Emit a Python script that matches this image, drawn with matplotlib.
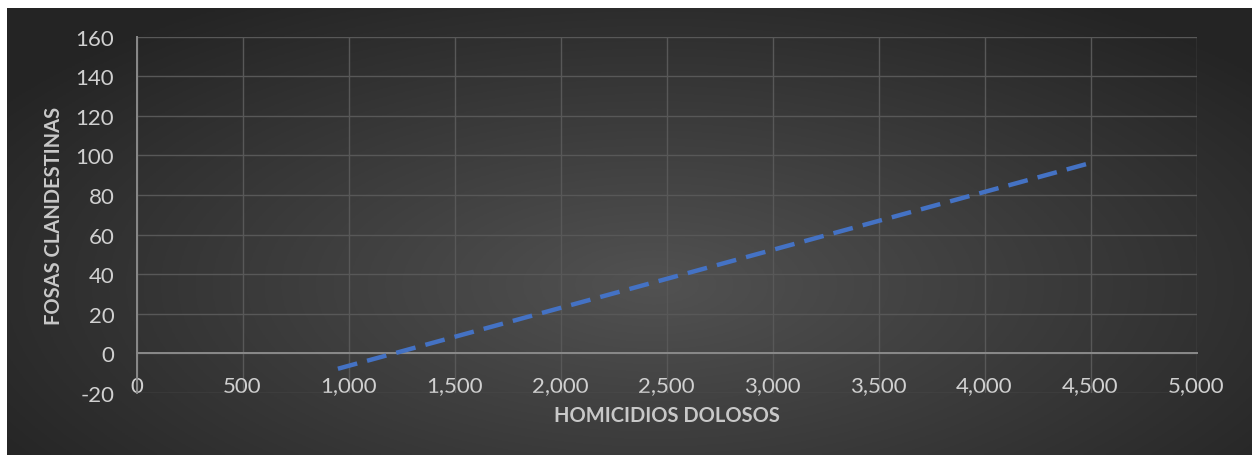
"""Trend line: fosas clandestinas vs homicidios dolosos."""

import matplotlib.pyplot as plt
import numpy as np

plt.switch_backend("Agg")
plt.rcParams["font.family"] = ["Lato", "DejaVu Sans"]

# Trend line end points
trend_x = [950, 4500]
trend_y = [-7.8, 96.2]

x_ticks = [0, 500, 1000, 1500, 2000, 2500, 3000, 3500, 4000, 4500, 5000]
y_ticks = [-20, 0, 20, 40, 60, 80, 100, 120, 140, 160]

x_title = "HOMICIDIOS DOLOSOS"
y_title = "FOSAS CLANDESTINAS"

TEXT = "#d0d0d0"
GRID = "#585858"
AXIS = "#8a8a8a"
LINE = "#4472c4"

W, H = 1252, 456
fig = plt.figure(figsize=(W / 100, H / 100), dpi=100)
fig.patch.set_facecolor("white")

# Radial gradient background of the chart area
bg = fig.add_axes([7 / W, 0, 1 - 7 / W, (H - 9) / H])
bg.set_axis_off()
gx, gy = np.meshgrid(np.linspace(0, 1, 400), np.linspace(0, 1, 200))
r = np.sqrt(((gx - 0.52) / 0.62) ** 2 + ((gy - 0.62) / 0.75) ** 2)
r = np.clip(r, 0, 1)
shade = 0.32 - (0.32 - 0.145) * r
bg.imshow(np.dstack([shade] * 3), aspect="auto", extent=[0, 1, 0, 1], origin="upper")

left, right = 136.5, 1196.5
top, bottom = 37.7, 393.9
ax = fig.add_axes([left / W, (H - bottom) / H, (right - left) / W, (bottom - top) / H])
ax.set_facecolor("none")

ax.plot(trend_x, trend_y, color=LINE, linewidth=3.2, linestyle=(0, (4.5, 2.3)),
        dash_capstyle="butt", zorder=3)

ax.set_xlim(0, 5000)
ax.set_ylim(-20, 160)
ax.set_xticks(x_ticks)
ax.set_yticks(y_ticks)
ax.set_xticklabels([f"{v:,}" for v in x_ticks])
ax.set_yticklabels([str(v) for v in y_ticks])

ax.grid(True, color=GRID, linewidth=1.0)
ax.set_axisbelow(True)

for side in ["top", "right"]:
    ax.spines[side].set_visible(False)
ax.spines["bottom"].set_position(("data", 0))
ax.spines["bottom"].set_color(AXIS)
ax.spines["bottom"].set_linewidth(1.4)
ax.spines["left"].set_color(AXIS)
ax.spines["left"].set_linewidth(1.4)

ax.tick_params(axis="x", length=0, pad=16, labelsize=16, labelcolor=TEXT)
ax.tick_params(axis="y", length=0, pad=16, labelsize=16, labelcolor=TEXT)

fig.text((left + right) / 2 / W, 1 - 416 / H, x_title, ha="center", va="center",
         fontsize=14.5, fontweight="bold", color="#c8c8c8")
fig.text(54 / W, 1 - (top + bottom) / 2 / H, y_title, ha="center", va="center",
         rotation=90, fontsize=14.5, fontweight="bold", color="#c8c8c8")

fig.savefig("out.png", dpi=100)
